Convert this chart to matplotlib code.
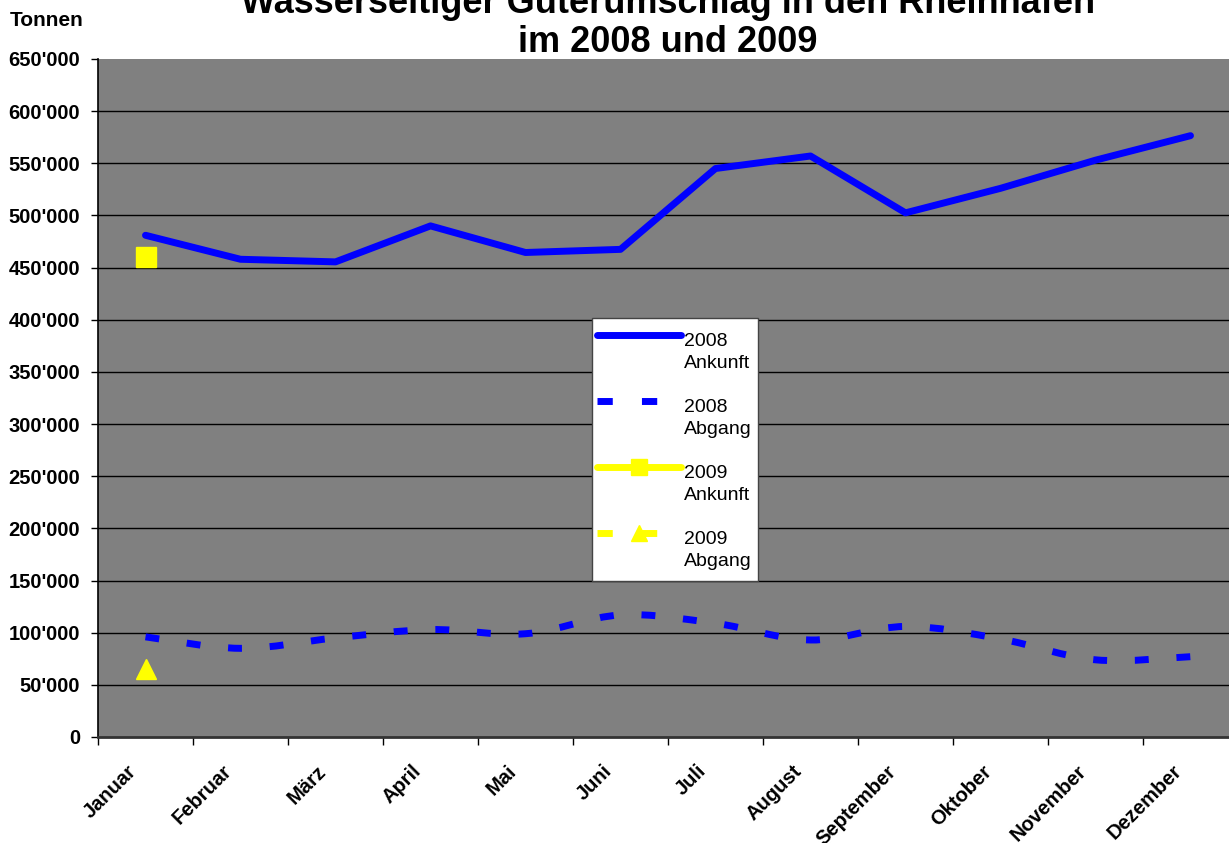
import numpy as np
import matplotlib
matplotlib.use("Agg")
import matplotlib.pyplot as plt
from matplotlib.path import Path
from matplotlib.patches import PathPatch, Rectangle
from matplotlib.lines import Line2D
from matplotlib.legend_handler import HandlerLine2D
from matplotlib.ticker import FuncFormatter
from matplotlib.transforms import ScaledTranslation

plt.rcParams['font.family'] = ['Liberation Sans', 'DejaVu Sans']

months = ["Januar", "Februar", "März", "April", "Mai", "Juni", "Juli",
          "August", "September", "Oktober", "November", "Dezember"]
ankunft_2008 = [481000, 458000, 455500, 490000, 464500, 467500, 545000,
                557000, 502500, 526000, 553000, 576500]
abgang_2008 = [96000, 85000, 95000, 103000, 99000, 117000, 109000,
               93000, 106000, 94000, 74000, 77000]
ankunft_2009 = [460000] + [np.nan] * 11
abgang_2009 = [65000] + [np.nan] * 11
yticks = list(range(0, 650001, 50000))

W, H = 1229, 843
fig = plt.figure(figsize=(W / 100, H / 100), dpi=100)
ax = fig.add_axes([98 / W, 1 - 737 / H, (1238 - 98) / W, (737 - 59) / H])
ax.set_facecolor('#808080')

x = np.arange(len(months))
BLUE = '#0000FF'
YEL = '#FFFF00'

# 2008 Ankunft
ax.plot(x, ankunft_2008, color=BLUE, lw=5, solid_capstyle='round',
        solid_joinstyle='round', zorder=3)

# 2008 Abgang: smoothed (Bezier through data points)
pts = np.column_stack([x, np.array(abgang_2008, dtype=float)])
verts = [tuple(pts[0])]
codes = [Path.MOVETO]
n = len(pts)
for i in range(n - 1):
    p0 = pts[i - 1] if i > 0 else pts[i]
    p1 = pts[i]
    p2 = pts[i + 1]
    p3 = pts[i + 2] if i + 2 < n else pts[i + 1]
    c1 = p1 + (p2 - p0) / 6.0
    c2 = p2 - (p3 - p1) / 6.0
    verts += [tuple(c1), tuple(c2), tuple(p2)]
    codes += [Path.CURVE4] * 3
patch = PathPatch(Path(verts, codes), facecolor='none', edgecolor=BLUE,
                  lw=5, linestyle=(0, (2, 4)), capstyle='butt', zorder=3,
                  transform=ax.transData)
ax.add_patch(patch)

# 2009
ax.plot(x, ankunft_2009, color=YEL, lw=5, marker='s', ms=14.5,
        mec=YEL, mfc=YEL, zorder=4)
ax.plot(x, abgang_2009, color=YEL, lw=5, marker='^', ms=15,
        mec=YEL, mfc=YEL, linestyle=(0, (2, 4)), zorder=4)

ax.set_xlim(-0.5, 11.5)
ax.set_ylim(0, 650000)

# gridlines
for v in yticks[1:-1]:
    ax.axhline(v, color='black', lw=1.0, zorder=1)

ax.set_yticks(yticks)
ax.yaxis.set_major_formatter(FuncFormatter(lambda v, p: f"{int(v):,}".replace(",", "'")))
ax.tick_params(axis='y', direction='out', length=5, width=1, pad=8,
               labelsize=14.5)
for lab in ax.get_yticklabels():
    lab.set_fontweight('bold')

ax.set_xticks(np.arange(-0.5, 12, 1.0))
ax.set_xticklabels([])
ax.set_xticks(x, minor=True)
ax.set_xticklabels(months, minor=True, rotation=45, ha='right', va='center',
                   rotation_mode='anchor', fontweight='bold', fontsize=14.5)
ax.tick_params(axis='x', which='major', direction='out', length=6, width=1)
ax.tick_params(axis='x', which='minor', length=0, pad=22.5)
shift = ScaledTranslation(-12 / 100, 0, fig.dpi_scale_trans)
for lab in ax.get_xticklabels(minor=True):
    lab.set_transform(lab.get_transform() + shift)

for s in ['top', 'right']:
    ax.spines[s].set_visible(False)
ax.spines['left'].set_color('black')
ax.spines['left'].set_linewidth(1.2)
ax.spines['bottom'].set_color('#333333')
ax.spines['bottom'].set_linewidth(2)

# titles
cx = 668 / W
fig.text(cx, 1 - 13 / H, "Wasserseitiger Güterumschlag in den Rheinhäfen",
         ha='center', va='baseline', fontsize=26, fontweight='bold')
fig.text(cx, 1 - 52 / H, "im 2008 und 2009", ha='center', va='baseline',
         fontsize=26, fontweight='bold')
fig.text(10 / W, 1 - 26 / H, "Tonnen", ha='left', va='baseline',
         fontsize=15, fontweight='bold')


class TopHandler(HandlerLine2D):
    def create_artists(self, legend, orig_handle, xdescent, ydescent,
                       width, height, fontsize, trans):
        arts = super().create_artists(legend, orig_handle, xdescent, ydescent,
                                      width, height, fontsize, trans)
        for a in arts:
            a.set_ydata(np.asarray(a.get_ydata(), dtype=float) + 0.9 * fontsize)
        return arts


handles = [
    Line2D([], [], color=BLUE, lw=5, solid_capstyle='round'),
    Line2D([], [], color=BLUE, lw=5, linestyle=(0, (2.2, 4.2)), dash_capstyle='butt'),
    Line2D([], [], color=YEL, lw=5, marker='s', ms=11, solid_capstyle='round'),
    Line2D([], [], color=YEL, lw=5, marker='^', ms=11, linestyle=(0, (2.2, 4.2))),
]
labels = ["2008\nAnkunft", "2008\nAbgang", "2009\nAnkunft", "2009\nAbgang"]
pad_l, pad_r, pad_t, pad_b = 5, 7, 15, 11
box_left, box_top = 592, 318
leg = fig.legend(handles, labels, loc='upper left',
                 bbox_to_anchor=((box_left + pad_l) / W, 1 - (box_top + pad_t) / H),
                 bbox_transform=fig.transFigure, borderaxespad=0,
                 fontsize=14, handlelength=4.3, handletextpad=0.15,
                 labelspacing=1.38, borderpad=0, frameon=False,
                 handler_map={Line2D: TopHandler(numpoints=1)})
for t in leg.get_texts():
    t.set_linespacing(1.4)
leg.set_zorder(6)

fig.canvas.draw()
bb = leg.get_window_extent()
frame = Rectangle((bb.x0 - pad_l, bb.y0 - pad_b),
                  bb.width + pad_l + pad_r, bb.height + pad_t + pad_b,
                  transform=None, facecolor='white', edgecolor='#444444',
                  lw=1, zorder=5)
fig.add_artist(frame)

fig.savefig("out.png", dpi=100, facecolor='white')
